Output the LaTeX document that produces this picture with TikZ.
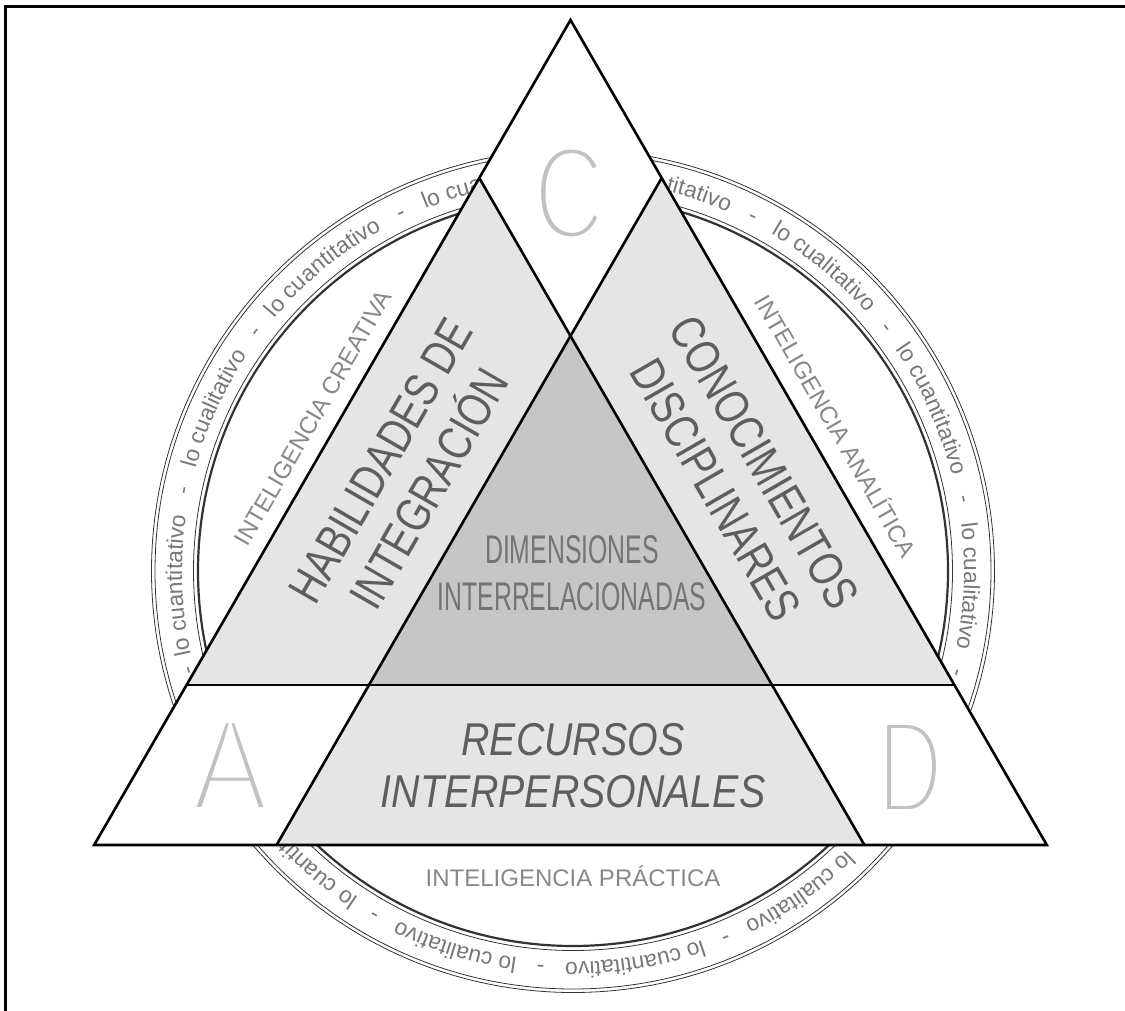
\documentclass[tikz,border=0pt]{standalone}
\usepackage{graphicx}
\usepackage{fontspec}
\setmainfont{Liberation Sans}
\newfontfamily\narrowfont[FakeStretch=0.855]{Liberation Sans}
\newfontfamily\labfont[FakeStretch=0.8]{Liberation Sans}
\newfontfamily\dimfont[FakeStretch=0.62]{Liberation Sans}
\newfontfamily\thinfont{Liberation Sans}
\usetikzlibrary{decorations.text,calc}
\definecolor{lightgr}{HTML}{E5E5E5}
\definecolor{midgr}{HTML}{C6C6C6}
\definecolor{labgr}{HTML}{5E5E5E}
\definecolor{dimgr}{HTML}{747474}
\definecolor{ringgr}{HTML}{787878}
\definecolor{intgr}{HTML}{888888}
\definecolor{lettergr}{HTML}{C2C2C2}
\definecolor{ringline}{HTML}{333333}
\newcommand\ringfnt{\fontsize{22.8}{26}\selectfont\color{ringgr}}
% thin a glyph by stroking its outline in white
\newcommand\thinglyph[2]{\scalebox{#1}[1]{\special{pdf:literal direct 2 Tr 1 1 1 RG 6.5 w 0 j}#2\special{pdf:literal direct 0 Tr}}}
\tikzset{
  edge/.style={line width=2.6pt, line join=miter},
  biglab/.style={inner sep=0pt, align=center, text=labgr, font=\labfont\fontsize{48}{56}\selectfont},
  reclab/.style={inner sep=0pt, align=center, text=labgr, font=\narrowfont\itshape\fontsize{46}{52}\selectfont},
  dimlab/.style={inner sep=0pt, align=center, text=dimgr, font=\dimfont\fontsize{40}{47}\selectfont},
  intlab/.style={inner sep=0pt, text=intgr, font=\fontsize{24}{28}\selectfont},
  bigletter/.style={inner sep=0pt, text=lettergr, font=\thinfont\fontsize{132}{140}\selectfont},
  ringdash/.style={inner sep=0pt, anchor=base, text=ringgr, font=\fontsize{22.8}{26}\selectfont},
  ringtext/.style={decorate, decoration={text along path, text align=left, text={|\ringfnt|#1}}}
}
\begin{document}
\begin{tikzpicture}[x=1pt,y=1pt]
\useasboundingbox (0,0) rectangle (1125,-1011);
\fill[white] (0,0) rectangle (1125,-1011);
% frame
\draw[line width=3pt] (5,-1011) -- (5,-7) -- (1125,-7);
% circle ring
\coordinate (c) at (573,-571);
\draw[line width=2.2pt, ringline] (c) circle[radius=375];
\draw[line width=0.8pt, ringline] (c) circle[radius=379.5];
\draw[line width=0.8pt, ringline] (c) circle[radius=418];
\draw[line width=0.8pt, ringline] (c) circle[radius=421.5];
% ring text (the parts that the triangle does not hide)
\foreach \a in {192.3,139.7,34.5,-70.7}{
  \path[ringtext={lo cuantitativo}]
    ($(c)+(\a:391)$) arc[start angle=\a, end angle=\a-32, radius=391];
}
\path[ringtext={titativo}]
  ($(c)+(76.3:391)$) arc[start angle=76.3, end angle=50, radius=391];
\path[ringtext={lo cuantit}]
  ($(c)+(236.7:391)$) arc[start angle=236.7, end angle=210, radius=391];
\path[ringtext={lo cua}]
  ($(c)+(112.2:391)$) arc[start angle=112.2, end angle=95, radius=391];
\foreach \a in {164.8,59.6,7.0,-45.6,-98.2}{
  \path[ringtext={lo cualitativo}]
    ($(c)+(\a:391)$) arc[start angle=\a, end angle=\a-30, radius=391];
}
\foreach \d in {194.5,168.3,115.7,63.1,10.5,-14.8,-67.4,143.0,37.8,-94.7,-120.0}{
  \node[ringdash, rotate=\d-90] (dash) at ($(c)+(\d:391)$) {-};
}
% triangle geometry
\coordinate (T) at (570.5,-20);
\coordinate (BL) at (94.2,-845);
\coordinate (BR) at (1046.8,-845);
\coordinate (LA) at (479.3,-178);
\coordinate (RA) at (661.7,-178);
\coordinate (H1) at (186.6,-685);
\coordinate (H2) at (954.4,-685);
\coordinate (M1) at (369.0,-685);
\coordinate (M2) at (772.0,-685);
\coordinate (CA) at (570.5,-336);
\coordinate (B1) at (276.6,-845);
\coordinate (B2) at (864.4,-845);
% fills
\fill[white] (T) -- (BL) -- (BR) -- cycle;
\fill[lightgr] (LA) -- (H1) -- (M2) -- cycle;
\fill[lightgr] (RA) -- (M1) -- (H2) -- cycle;
\fill[lightgr] (M1) -- (M2) -- (B2) -- (B1) -- cycle;
\fill[midgr] (CA) -- (M1) -- (M2) -- cycle;
% lines
\draw[edge] (T) -- (BL) -- (BR) -- cycle;
\draw[edge] (H1) -- (H2);
\draw[edge] (LA) -- (B2);
\draw[edge] (RA) -- (B1);
% big letters
\node[bigletter] (lC) at (569,-193) {\thinglyph{0.74}{C}};
\node[bigletter] (lA) at (230,-765) {\thinglyph{0.86}{A}};
\node[bigletter] (lD) at (910,-767) {\thinglyph{0.68}{D}};
% labels
\node[biglab, rotate=60] (hab) at (405,-475) {HABILIDADES DE\\INTEGRACIÓN};
\node[biglab, rotate=-60] (con) at (740,-476) {CONOCIMIENTOS\\DISCIPLINARES};
\node[dimlab] (dim) at (572,-573) {DIMENSIONES\\INTERRELACIONADAS};
\node[reclab] (rec) at (573,-766) {RECURSOS\\INTERPERSONALES};
\node[intlab] (ip) at (573,-876) {INTELIGENCIA PRÁCTICA};
\node[intlab, rotate=60] (ic) at (313,-418) {INTELIGENCIA CREATIVA};
\node[intlab, rotate=-60] (ia) at (837,-425) {INTELIGENCIA ANALÍTICA};
\end{tikzpicture}
\end{document}
